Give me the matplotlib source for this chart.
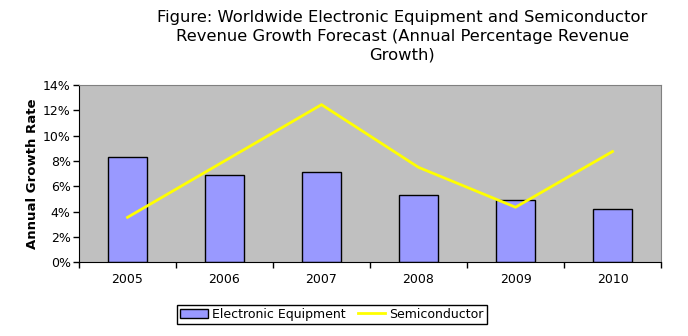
import matplotlib
matplotlib.use("Agg")
import matplotlib.pyplot as plt
from matplotlib.ticker import FixedLocator, FuncFormatter

years = ['2005', '2006', '2007', '2008', '2009', '2010']
electronic = [8.3, 6.9, 7.1, 5.3, 4.9, 4.2]
semiconductor = [3.55, 8.0, 12.45, 7.5, 4.35, 8.75]
yticks = [0, 2, 4, 6, 8, 10, 12, 14]

plt.rcParams['font.family'] = 'DejaVu Sans'

fig = plt.figure(figsize=(6.88, 3.36), dpi=100)
ax = fig.add_axes([0.1148, 0.2193, 0.8460, 0.5277])
ax.set_facecolor('#c0c0c0')

x = list(range(len(years)))
bars = ax.bar(x, electronic, width=0.4, color='#9999ff', edgecolor='black', linewidth=1.0,
              label='Electronic Equipment', zorder=2)
line, = ax.plot(x, semiconductor, color='#ffff00', linewidth=2.0, label='Semiconductor', zorder=3)

ax.set_xlim(-0.5, len(years) - 0.5)
ax.set_ylim(0, 14)
ax.set_yticks(yticks)
ax.yaxis.set_major_formatter(FuncFormatter(lambda v, p: '%d%%' % v))
ax.tick_params(axis='y', direction='out', length=4, width=1, labelsize=9, pad=2)

ax.set_xticks(x)
ax.set_xticklabels(years)
ax.tick_params(axis='x', which='major', length=0, labelsize=9, pad=8)
ax.xaxis.set_minor_locator(FixedLocator([i - 0.5 for i in range(len(years) + 1)]))
ax.tick_params(axis='x', which='minor', direction='out', length=4, width=1)

ax.spines['left'].set_color('black')
ax.spines['bottom'].set_color('black')
ax.spines['top'].set_color('#808080')
ax.spines['right'].set_color('#808080')

ax.set_ylabel('Annual Growth Rate', fontsize=9.5, fontweight='bold', labelpad=3)

fig.text(0.585, 0.97, 'Figure: Worldwide Electronic Equipment and Semiconductor\n'
         'Revenue Growth Forecast (Annual Percentage Revenue\nGrowth)',
         ha='center', va='top', fontsize=11.8, linespacing=1.3)

leg = fig.legend([bars, line], ['Electronic Equipment', 'Semiconductor'],
                 loc='center', bbox_to_anchor=(0.4824, 0.0645), ncol=2, fontsize=9,
                 frameon=True, fancybox=False, edgecolor='black', framealpha=1,
                 borderpad=0.25, handlelength=2.2, handletextpad=0.3, columnspacing=1.0)
leg.get_frame().set_linewidth(1.0)

fig.savefig('out.png', dpi=100)
